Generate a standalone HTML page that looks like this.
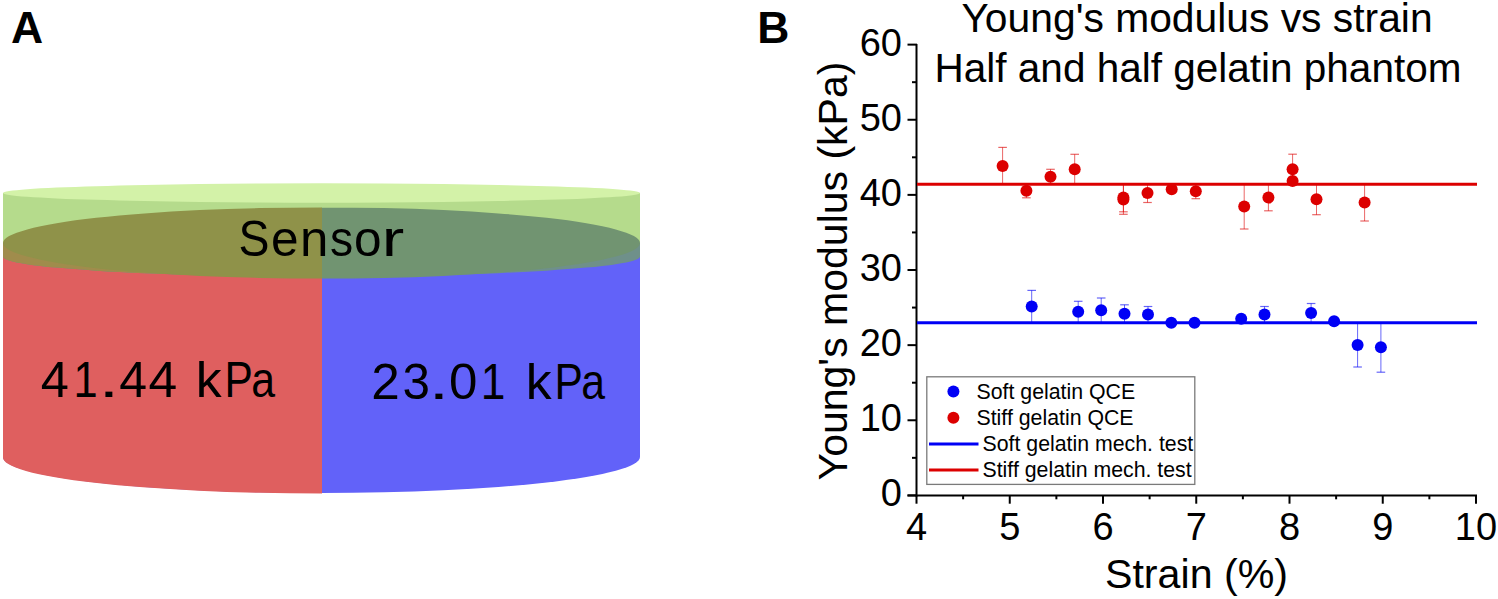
<!DOCTYPE html>
<html><head><meta charset="utf-8"><style>
html,body{margin:0;padding:0;background:#fff;}
body{width:1498px;height:599px;overflow:hidden;position:relative;}
svg{position:absolute;left:0;top:0;}
text{font-family:"Liberation Sans",sans-serif;fill:#000;}
</style></head><body>
<svg width="1498" height="599" viewBox="0 0 1498 599">
<!-- Panel A -->
<text x="11" y="42.8" font-size="44.5" font-weight="bold">A</text>
<g id="cyl">
  <!-- body -->
  <path d="M3,243 L640,243 L640,457 A318.5,36 0 0 1 3,457 Z" fill="#6262f9"/>
  <path d="M3,243 L322,243 L322,493.5 L321.5,493.5 A318.5,36 0 0 1 3,457 Z" fill="#df5f5f"/>
  <!-- band (green disk lower part over body) -->
  <path d="M3,243 L640,243 L640,256.5 A318.5,20 0 0 1 3,256.5 Z" fill="#6f908a"/>
  <path d="M3,243 L322,243 L322,276.5 L321.5,276.5 A318.5,20 0 0 1 3,256.5 Z" fill="#a08c4c"/>
  <!-- green side -->
  <rect x="3" y="193" width="637" height="50" fill="#b5db8c"/>
  <!-- top face of body seen through green -->
  <path d="M3,243 A318.5,35.6 0 0 1 321.5,207.4 L322,207.4 L322,278.6 L321.5,278.6 A318.5,35.6 0 0 1 3,243 Z" fill="#8f9249"/>
  <path d="M640,243 A318.5,35.6 0 0 0 321.5,207.4 L322,207.4 L322,278.6 L321.5,278.6 A318.5,35.6 0 0 0 640,243 Z" fill="#719471"/>
  <!-- top face of green -->
  <ellipse cx="321.5" cy="193" rx="318.5" ry="9.7" fill="#d3f2a8"/>
</g>
<text transform="translate(238.46,255.6) scale(0.9287,1)" x="0" y="0" font-size="50">S</text>
<text transform="translate(270.92,255.6) scale(0.9915,1)" x="0" y="0" font-size="50">e</text>
<text transform="translate(299.93,255.6) scale(1.0212,1)" x="0" y="0" font-size="50">n</text>
<text transform="translate(329.90,255.6) scale(0.9266,1)" x="0" y="0" font-size="50">s</text>
<text transform="translate(354.12,255.6) scale(0.9915,1)" x="0" y="0" font-size="50">o</text>
<text transform="translate(381.74,255.6) scale(1.3520,1)" x="0" y="0" font-size="50">r</text>
<text transform="translate(40.64,397.3) scale(1.0221,1)" x="0" y="0" font-size="49.5">4</text>
<text transform="translate(73.60,397.3) scale(0.8765,1)" x="0" y="0" font-size="49.5">1</text>
<text transform="translate(98.86,397.3) scale(1.4731,1)" x="0" y="0" font-size="49.5">.</text>
<text transform="translate(119.15,397.3) scale(1.0101,1)" x="0" y="0" font-size="49.5">4</text>
<text transform="translate(148.61,397.3) scale(1.0422,1)" x="0" y="0" font-size="49.5">4</text>
<text transform="translate(195.83,397.3) scale(1.0473,1)" x="0" y="0" font-size="49.5">k</text>
<text transform="translate(224.42,397.3) scale(0.8582,1)" x="0" y="0" font-size="49.5">P</text>
<text transform="translate(251.30,397.3) scale(0.8647,1)" x="0" y="0" font-size="49.5">a</text>
<text transform="translate(371.33,398.6) scale(1.0367,1)" x="0" y="0" font-size="49.5">2</text>
<text transform="translate(402.42,398.6) scale(0.9973,1)" x="0" y="0" font-size="49.5">3</text>
<text transform="translate(428.86,398.6) scale(1.4731,1)" x="0" y="0" font-size="49.5">.</text>
<text transform="translate(449.11,398.6) scale(1.0312,1)" x="0" y="0" font-size="49.5">0</text>
<text transform="translate(480.73,398.6) scale(0.8953,1)" x="0" y="0" font-size="49.5">1</text>
<text transform="translate(525.83,398.6) scale(1.0473,1)" x="0" y="0" font-size="49.5">k</text>
<text transform="translate(554.42,398.6) scale(0.8582,1)" x="0" y="0" font-size="49.5">P</text>
<text transform="translate(581.30,398.6) scale(0.8647,1)" x="0" y="0" font-size="49.5">a</text>

<!-- Panel B -->
<text x="757.3" y="42.8" font-size="44.5" font-weight="bold">B</text>
<text x="1197" y="32.3" text-anchor="middle" font-size="40.8">Young's modulus vs strain</text>
<text x="1198" y="81.7" text-anchor="middle" font-size="40.5">Half and half gelatin phantom</text>
<text transform="translate(847,271) rotate(-90)" text-anchor="middle" font-size="41">Young's modulus (kPa)</text>
<text x="1196.5" y="588.2" text-anchor="middle" font-size="41.2">Strain (%)</text>
<text x="902" y="506.29999999999995" text-anchor="end" font-size="38">0</text><text x="902" y="431.16999999999996" text-anchor="end" font-size="38">10</text><text x="902" y="356.03999999999996" text-anchor="end" font-size="38">20</text><text x="902" y="280.90999999999997" text-anchor="end" font-size="38">30</text><text x="902" y="205.78" text-anchor="end" font-size="38">40</text><text x="902" y="130.65" text-anchor="end" font-size="38">50</text><text x="902" y="55.52" text-anchor="end" font-size="38">60</text>
<text x="916.5" y="540" text-anchor="middle" font-size="38">4</text><text x="1009.75" y="540" text-anchor="middle" font-size="38">5</text><text x="1103.0" y="540" text-anchor="middle" font-size="38">6</text><text x="1196.25" y="540" text-anchor="middle" font-size="38">7</text><text x="1289.5" y="540" text-anchor="middle" font-size="38">8</text><text x="1382.75" y="540" text-anchor="middle" font-size="38">9</text><text x="1476.0" y="540" text-anchor="middle" font-size="38">10</text>
<!-- axes -->
<line x1="916.5" y1="44" x2="916.5" y2="496.6" stroke="#000" stroke-width="2"/>
<line x1="907.5" y1="495.6" x2="1477" y2="495.6" stroke="#000" stroke-width="2"/>
<line x1="907.5" y1="495.4" x2="917" y2="495.4" stroke="#000" stroke-width="2"/><line x1="912" y1="457.835" x2="917" y2="457.835" stroke="#000" stroke-width="2"/><line x1="907.5" y1="420.27" x2="917" y2="420.27" stroke="#000" stroke-width="2"/><line x1="912" y1="382.705" x2="917" y2="382.705" stroke="#000" stroke-width="2"/><line x1="907.5" y1="345.14" x2="917" y2="345.14" stroke="#000" stroke-width="2"/><line x1="912" y1="307.575" x2="917" y2="307.575" stroke="#000" stroke-width="2"/><line x1="907.5" y1="270.01" x2="917" y2="270.01" stroke="#000" stroke-width="2"/><line x1="912" y1="232.445" x2="917" y2="232.445" stroke="#000" stroke-width="2"/><line x1="907.5" y1="194.88" x2="917" y2="194.88" stroke="#000" stroke-width="2"/><line x1="912" y1="157.315" x2="917" y2="157.315" stroke="#000" stroke-width="2"/><line x1="907.5" y1="119.75" x2="917" y2="119.75" stroke="#000" stroke-width="2"/><line x1="912" y1="82.185" x2="917" y2="82.185" stroke="#000" stroke-width="2"/><line x1="907.5" y1="44.620000000000005" x2="917" y2="44.620000000000005" stroke="#000" stroke-width="2"/><line x1="916.5" y1="495.6" x2="916.5" y2="503.7" stroke="#000" stroke-width="2"/><line x1="963.125" y1="495.6" x2="963.125" y2="499.3" stroke="#000" stroke-width="2"/><line x1="1009.75" y1="495.6" x2="1009.75" y2="503.7" stroke="#000" stroke-width="2"/><line x1="1056.375" y1="495.6" x2="1056.375" y2="499.3" stroke="#000" stroke-width="2"/><line x1="1103.0" y1="495.6" x2="1103.0" y2="503.7" stroke="#000" stroke-width="2"/><line x1="1149.625" y1="495.6" x2="1149.625" y2="499.3" stroke="#000" stroke-width="2"/><line x1="1196.25" y1="495.6" x2="1196.25" y2="503.7" stroke="#000" stroke-width="2"/><line x1="1242.875" y1="495.6" x2="1242.875" y2="499.3" stroke="#000" stroke-width="2"/><line x1="1289.5" y1="495.6" x2="1289.5" y2="503.7" stroke="#000" stroke-width="2"/><line x1="1336.125" y1="495.6" x2="1336.125" y2="499.3" stroke="#000" stroke-width="2"/><line x1="1382.75" y1="495.6" x2="1382.75" y2="503.7" stroke="#000" stroke-width="2"/><line x1="1429.375" y1="495.6" x2="1429.375" y2="499.3" stroke="#000" stroke-width="2"/><line x1="1476.0" y1="495.6" x2="1476.0" y2="503.7" stroke="#000" stroke-width="2"/>
<!-- ref lines -->
<line x1="917" y1="184.2" x2="1477" y2="184.2" stroke="#dc0000" stroke-width="3"/>
<line x1="917" y1="322.7" x2="1477" y2="322.7" stroke="#0000f5" stroke-width="3"/>
<line x1="1002.6" y1="147.4" x2="1002.6" y2="184.4" stroke="#dc0000" stroke-width="1" stroke-opacity="0.6"/>
<line x1="998.3000000000001" y1="147.4" x2="1006.9" y2="147.4" stroke="#dc0000" stroke-width="1.2" stroke-opacity="0.6"/>
<line x1="1026.4" y1="183.8" x2="1026.4" y2="197.8" stroke="#dc0000" stroke-width="1" stroke-opacity="0.6"/>
<line x1="1022.1000000000001" y1="197.8" x2="1030.7" y2="197.8" stroke="#dc0000" stroke-width="1.2" stroke-opacity="0.6"/>
<line x1="1050.5" y1="169.3" x2="1050.5" y2="184.1" stroke="#dc0000" stroke-width="1" stroke-opacity="0.6"/>
<line x1="1046.2" y1="169.3" x2="1054.8" y2="169.3" stroke="#dc0000" stroke-width="1.2" stroke-opacity="0.6"/>
<line x1="1074.7" y1="154.3" x2="1074.7" y2="184.1" stroke="#dc0000" stroke-width="1" stroke-opacity="0.6"/>
<line x1="1070.4" y1="154.3" x2="1079.0" y2="154.3" stroke="#dc0000" stroke-width="1.2" stroke-opacity="0.6"/>
<line x1="1123.4" y1="183.2" x2="1123.4" y2="211.8" stroke="#dc0000" stroke-width="1" stroke-opacity="0.6"/>
<line x1="1119.1000000000001" y1="211.8" x2="1127.7" y2="211.8" stroke="#dc0000" stroke-width="1.2" stroke-opacity="0.6"/>
<line x1="1123.4" y1="184.7" x2="1123.4" y2="214.3" stroke="#dc0000" stroke-width="1" stroke-opacity="0.6"/>
<line x1="1119.1000000000001" y1="214.3" x2="1127.7" y2="214.3" stroke="#dc0000" stroke-width="1.2" stroke-opacity="0.6"/>
<line x1="1147.5" y1="183.5" x2="1147.5" y2="202.5" stroke="#dc0000" stroke-width="1" stroke-opacity="0.6"/>
<line x1="1143.2" y1="202.5" x2="1151.8" y2="202.5" stroke="#dc0000" stroke-width="1.2" stroke-opacity="0.6"/>
<line x1="1195.8" y1="183.9" x2="1195.8" y2="198.7" stroke="#dc0000" stroke-width="1" stroke-opacity="0.6"/>
<line x1="1191.5" y1="198.7" x2="1200.1" y2="198.7" stroke="#dc0000" stroke-width="1.2" stroke-opacity="0.6"/>
<line x1="1244.2" y1="184.0" x2="1244.2" y2="229.0" stroke="#dc0000" stroke-width="1" stroke-opacity="0.6"/>
<line x1="1239.9" y1="229.0" x2="1248.5" y2="229.0" stroke="#dc0000" stroke-width="1.2" stroke-opacity="0.6"/>
<line x1="1268.4" y1="184.4" x2="1268.4" y2="210.8" stroke="#dc0000" stroke-width="1" stroke-opacity="0.6"/>
<line x1="1264.1000000000001" y1="210.8" x2="1272.7" y2="210.8" stroke="#dc0000" stroke-width="1.2" stroke-opacity="0.6"/>
<line x1="1292.6" y1="154.2" x2="1292.6" y2="184.2" stroke="#dc0000" stroke-width="1" stroke-opacity="0.6"/>
<line x1="1288.3" y1="154.2" x2="1296.8999999999999" y2="154.2" stroke="#dc0000" stroke-width="1.2" stroke-opacity="0.6"/>
<line x1="1316.5" y1="183.7" x2="1316.5" y2="214.7" stroke="#dc0000" stroke-width="1" stroke-opacity="0.6"/>
<line x1="1312.2" y1="214.7" x2="1320.8" y2="214.7" stroke="#dc0000" stroke-width="1.2" stroke-opacity="0.6"/>
<line x1="1364.6" y1="184.2" x2="1364.6" y2="221.0" stroke="#dc0000" stroke-width="1" stroke-opacity="0.6"/>
<line x1="1360.3" y1="221.0" x2="1368.8999999999999" y2="221.0" stroke="#dc0000" stroke-width="1.2" stroke-opacity="0.6"/>
<line x1="1031.7" y1="290.4" x2="1031.7" y2="322.6" stroke="#0000f5" stroke-width="1" stroke-opacity="0.6"/>
<line x1="1027.4" y1="290.4" x2="1036.0" y2="290.4" stroke="#0000f5" stroke-width="1.2" stroke-opacity="0.6"/>
<line x1="1078.2" y1="301.3" x2="1078.2" y2="322.3" stroke="#0000f5" stroke-width="1" stroke-opacity="0.6"/>
<line x1="1073.9" y1="301.3" x2="1082.5" y2="301.3" stroke="#0000f5" stroke-width="1.2" stroke-opacity="0.6"/>
<line x1="1101.2" y1="298.0" x2="1101.2" y2="322.6" stroke="#0000f5" stroke-width="1" stroke-opacity="0.6"/>
<line x1="1096.9" y1="298.0" x2="1105.5" y2="298.0" stroke="#0000f5" stroke-width="1.2" stroke-opacity="0.6"/>
<line x1="1124.5" y1="304.8" x2="1124.5" y2="322.8" stroke="#0000f5" stroke-width="1" stroke-opacity="0.6"/>
<line x1="1120.2" y1="304.8" x2="1128.8" y2="304.8" stroke="#0000f5" stroke-width="1.2" stroke-opacity="0.6"/>
<line x1="1148.0" y1="306.5" x2="1148.0" y2="322.5" stroke="#0000f5" stroke-width="1" stroke-opacity="0.6"/>
<line x1="1143.7" y1="306.5" x2="1152.3" y2="306.5" stroke="#0000f5" stroke-width="1.2" stroke-opacity="0.6"/>
<line x1="1264.5" y1="306.5" x2="1264.5" y2="322.5" stroke="#0000f5" stroke-width="1" stroke-opacity="0.6"/>
<line x1="1260.2" y1="306.5" x2="1268.8" y2="306.5" stroke="#0000f5" stroke-width="1.2" stroke-opacity="0.6"/>
<line x1="1311.1" y1="303.5" x2="1311.1" y2="322.5" stroke="#0000f5" stroke-width="1" stroke-opacity="0.6"/>
<line x1="1306.8" y1="303.5" x2="1315.3999999999999" y2="303.5" stroke="#0000f5" stroke-width="1.2" stroke-opacity="0.6"/>
<line x1="1357.6" y1="322.8" x2="1357.6" y2="367.0" stroke="#0000f5" stroke-width="1" stroke-opacity="0.6"/>
<line x1="1353.3" y1="367.0" x2="1361.8999999999999" y2="367.0" stroke="#0000f5" stroke-width="1.2" stroke-opacity="0.6"/>
<line x1="1380.9" y1="322.4" x2="1380.9" y2="372.2" stroke="#0000f5" stroke-width="1" stroke-opacity="0.6"/>
<line x1="1376.6000000000001" y1="372.2" x2="1385.2" y2="372.2" stroke="#0000f5" stroke-width="1.2" stroke-opacity="0.6"/>
<circle cx="1002.6" cy="165.9" r="6" fill="#dc0000"/>
<circle cx="1026.4" cy="190.8" r="6" fill="#dc0000"/>
<circle cx="1050.5" cy="176.7" r="6" fill="#dc0000"/>
<circle cx="1074.7" cy="169.2" r="6" fill="#dc0000"/>
<circle cx="1123.4" cy="197.5" r="6" fill="#dc0000"/>
<circle cx="1123.4" cy="199.5" r="6" fill="#dc0000"/>
<circle cx="1147.5" cy="193.0" r="6" fill="#dc0000"/>
<circle cx="1171.7" cy="189.2" r="6" fill="#dc0000"/>
<circle cx="1195.8" cy="191.3" r="6" fill="#dc0000"/>
<circle cx="1244.2" cy="206.5" r="6" fill="#dc0000"/>
<circle cx="1268.4" cy="197.6" r="6" fill="#dc0000"/>
<circle cx="1292.6" cy="169.2" r="6" fill="#dc0000"/>
<circle cx="1292.6" cy="180.9" r="6" fill="#dc0000"/>
<circle cx="1316.5" cy="199.2" r="6" fill="#dc0000"/>
<circle cx="1364.6" cy="202.6" r="6" fill="#dc0000"/>
<circle cx="1031.7" cy="306.5" r="6" fill="#0000f5"/>
<circle cx="1078.2" cy="311.8" r="6" fill="#0000f5"/>
<circle cx="1101.2" cy="310.3" r="6" fill="#0000f5"/>
<circle cx="1124.5" cy="313.8" r="6" fill="#0000f5"/>
<circle cx="1148.0" cy="314.5" r="6" fill="#0000f5"/>
<circle cx="1171.3" cy="322.8" r="6" fill="#0000f5"/>
<circle cx="1194.5" cy="322.8" r="6" fill="#0000f5"/>
<circle cx="1241.2" cy="318.8" r="6" fill="#0000f5"/>
<circle cx="1264.5" cy="314.5" r="6" fill="#0000f5"/>
<circle cx="1311.1" cy="313.0" r="6" fill="#0000f5"/>
<circle cx="1334.1" cy="321.3" r="6" fill="#0000f5"/>
<circle cx="1357.6" cy="344.9" r="6" fill="#0000f5"/>
<circle cx="1380.9" cy="347.3" r="6" fill="#0000f5"/>
<!-- legend -->
<rect x="926.8" y="376.8" width="268" height="107.6" fill="#fff" stroke="#7a7a7a" stroke-width="1.3"/>
<circle cx="953.4" cy="391.5" r="6" fill="#0000f5"/>
<circle cx="953.4" cy="417.8" r="6" fill="#dc0000"/>
<line x1="929" y1="444" x2="978.5" y2="444" stroke="#0000f5" stroke-width="3"/>
<line x1="929" y1="470" x2="978.5" y2="470" stroke="#dc0000" stroke-width="3"/>
<text x="976.5" y="398.7" font-size="21.3">Soft gelatin QCE</text>
<text x="976.5" y="424.8" font-size="21.3">Stiff gelatin QCE</text>
<text x="982.5" y="450.5" font-size="21.3">Soft gelatin mech. test</text>
<text x="982.5" y="476.8" font-size="21.3">Stiff gelatin mech. test</text>
</svg>
</body></html>
